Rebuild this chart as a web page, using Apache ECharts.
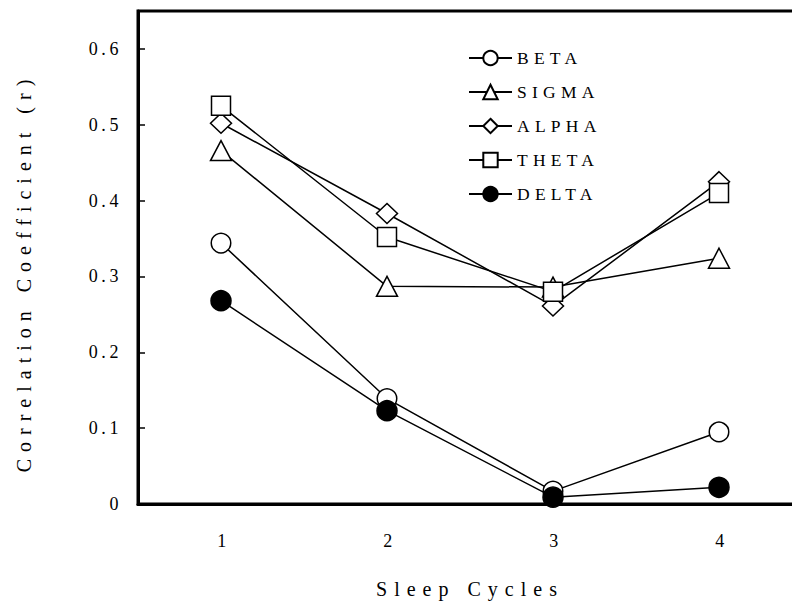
<!DOCTYPE html>
<html>
<head>
<meta charset="utf-8">
<script src="https://cdn.jsdelivr.net/npm/echarts@6/dist/echarts.min.js"></script>
<style>
  html, body { margin: 0; padding: 0; background: #fff; }
  #chart { width: 792px; height: 609px; }
  #chart svg text { letter-spacing: 0.35em; }
  #chart svg text[style*="17.5px"] { letter-spacing: 0.3em; }
  #chart svg text[style*="18px"] { letter-spacing: 0.2em; }
</style>
</head>
<body>
<div id="chart"></div>
<script>
const categories = ['1', '2', '3', '4'];
const seriesNames = ['BETA', 'SIGMA', 'ALPHA', 'THETA', 'DELTA'];
const beta  = [0.344, 0.139, 0.017, 0.095];
const sigma = [0.466, 0.287, 0.286, 0.324];
const alpha = [0.502, 0.383, 0.261, 0.425];
const theta = [0.525, 0.352, 0.280, 0.410];
const delta = [0.268, 0.123, 0.009, 0.022];
const yTicks = [0, 0.1, 0.2, 0.3, 0.4, 0.5, 0.6];
const xTitle = 'Sleep Cycles';
const yTitle = 'Correlation Coefficient (r)';

const FONT = 'Liberation Serif';
const values = [beta, sigma, alpha, theta, delta];
const symbols = ['circle', 'triangle', 'diamond', 'rect', 'circle'];
const sizes = [19.5, [21, 20], [21, 20], 19, 20];
const fills = ['#fff', '#fff', '#fff', '#fff', '#000'];

const chart = echarts.init(document.getElementById('chart'), null, { renderer: 'svg' });
chart.setOption({
  animation: false,
  backgroundColor: '#fff',
  grid: {
    left: 138, top: 11, right: -10, bottom: 105,
    outerBoundsMode: 'none', containLabel: false,
    show: true, borderColor: '#000', borderWidth: 3
  },
  legend: {
    orient: 'vertical', left: 463, top: 44, itemWidth: 43, itemHeight: 18, itemGap: 16,
    data: seriesNames,
    textStyle: { fontFamily: FONT, fontSize: 17.5, color: '#000' }
  },
  xAxis: {
    type: 'category', data: categories, boundaryGap: true,
    name: xTitle, nameLocation: 'middle', nameGap: 75,
    nameTextStyle: { fontFamily: FONT, fontSize: 20, color: '#000' },
    axisLine: { lineStyle: { color: '#000', width: 3 } },
    axisTick: { inside: true, length: 7, lineStyle: { color: '#000', width: 2 } },
    axisLabel: { margin: 28, fontFamily: FONT, fontSize: 18, color: '#000', padding: [0, 0, 0, 5] },
    splitLine: { show: false }
  },
  yAxis: {
    type: 'value', min: 0, max: 0.65, interval: 0.1,
    name: yTitle, nameLocation: 'middle', nameGap: 104,
    nameTextStyle: { fontFamily: FONT, fontSize: 20, color: '#000', padding: [0, 30, 0, 0] },
    axisLine: { show: true, lineStyle: { color: '#000', width: 3 } },
    axisTick: { show: true, inside: true, length: 7, lineStyle: { color: '#000', width: 1.5 } },
    axisLabel: {
      margin: 16, fontFamily: FONT, fontSize: 18, color: '#000', showMaxLabel: false,
      formatter: v => (yTicks.some(t => Math.abs(t - v) < 1e-9) ? String(Math.round(v * 10) / 10) : '')
    },
    splitLine: { show: false }
  },
  series: seriesNames.map((n, i) => ({
    name: n, type: 'line', data: values[i],
    symbol: symbols[i], symbolSize: sizes[i], showAllSymbol: true,
    lineStyle: { color: '#000', width: 1.5 },
    itemStyle: { color: fills[i], borderColor: '#000', borderWidth: 1.5 },
    emphasis: { disabled: true },
    z: 2 + i
  }))
});
</script>
</body>
</html>
